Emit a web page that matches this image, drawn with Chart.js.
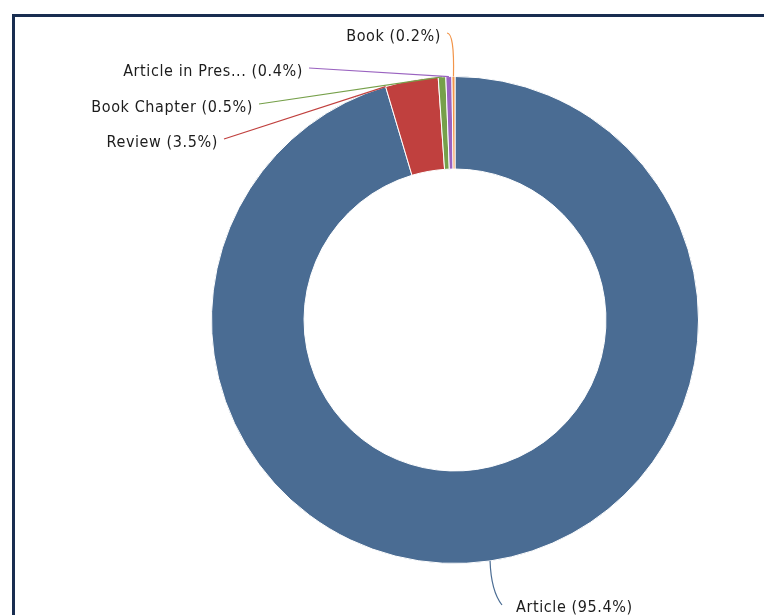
<!DOCTYPE html>
<html>
<head>
<meta charset="utf-8">
<script src="https://cdn.jsdelivr.net/npm/chart.js@4/dist/chart.umd.min.js"></script>
<style>
  html, body { margin: 0; padding: 0; background: #ffffff; }
  #wrap { position: relative; width: 764px; height: 615px; overflow: hidden; }
  #frame { position: absolute; left: 12px; top: 14px; right: -10px; bottom: -10px;
           border-left: 3px solid #182d50; border-top: 3px solid #182d50; box-sizing: border-box; }
  canvas { position: absolute; left: 0; top: 0; }
</style>
</head>
<body>
<div id="wrap">
  <div id="frame"></div>
  <canvas id="c" width="764" height="615"></canvas>
</div>
<script>
// ---- data ----
const categories = ['Article', 'Review', 'Book Chapter', 'Article in Pres...', 'Book'];
const shares = [95.4, 3.5, 0.5, 0.4, 0.2];
const colors = ['#4a6c93', '#c0403e', '#76a04a', '#9a63c0', '#f2954a'];

// label layout: offset of text anchor from doughnut centre, alignment, and where on the arc the connector ends (0=start,0.5=mid)
const labelLayout = [
  { dx: 61, dy: 288, align: 'left', arcAt: 0.5, curve: 'up' },
  { dx: -237, dy: -177, align: 'right', arcAt: 0.0 },
  { dx: -202, dy: -212, align: 'right', arcAt: 0.5 },
  { dx: -152, dy: -248, align: 'right', arcAt: 0.5 },
  { dx: -14, dy: -283, align: 'right', arcAt: 0.5, curve: 'down' }
];

const FONT = '16px "DejaVu Sans Condensed", "DejaVu Sans", sans-serif';

const labelPlugin = {
  id: 'outLabels',
  afterDatasetsDraw(chart) {
    const ctx = chart.ctx;
    const meta = chart.getDatasetMeta(0);
    ctx.save();
    ctx.font = FONT;
    if ('letterSpacing' in ctx) ctx.letterSpacing = '0.6px';
    ctx.textBaseline = 'middle';
    meta.data.forEach((arc, i) => {
      const p = arc.getProps(['x', 'y', 'startAngle', 'endAngle', 'outerRadius'], true);
      const L = labelLayout[i];
      const text = categories[i] + ' (' + shares[i].toFixed(1) + '%)';
      const tx = p.x + L.dx, ty = p.y + L.dy;
      ctx.fillStyle = '#1c1c1c';
      ctx.textAlign = L.align;
      ctx.fillText(text, tx, ty);
      const a = p.startAngle + (p.endAngle - p.startAngle) * L.arcAt;
      const ex = p.x + Math.cos(a) * p.outerRadius;
      const ey = p.y + Math.sin(a) * p.outerRadius;
      const sx = L.align === 'right' ? tx + 6 : tx - 14;
      const sy = L.align === 'right' ? ty - 4 : ty - 3;
      ctx.strokeStyle = colors[i];
      ctx.lineWidth = 1.2;
      ctx.beginPath();
      ctx.moveTo(sx, sy);
      if (L.curve === 'down') {
        ctx.quadraticCurveTo(ex + 1, sy, ex, ey);
      } else if (L.curve === 'up') {
        ctx.quadraticCurveTo(ex + 1, sy - 14, ex, ey);
      } else {
        ctx.lineTo(ex, ey);
      }
      ctx.stroke();
    });
    ctx.restore();
  }
};

new Chart(document.getElementById('c'), {
  type: 'doughnut',
  data: {
    labels: categories,
    datasets: [{
      data: shares,
      backgroundColor: colors,
      borderColor: '#ffffff',
      borderWidth: 1,
      hoverOffset: 0
    }]
  },
  options: {
    responsive: false,
    animation: false,
    cutout: '62%',
    layout: { padding: { left: 198, right: 52, top: 76, bottom: 51 } },
    plugins: { legend: { display: false }, tooltip: { enabled: false } },
    events: []
  },
  plugins: [labelPlugin]
});
</script>
</body>
</html>
